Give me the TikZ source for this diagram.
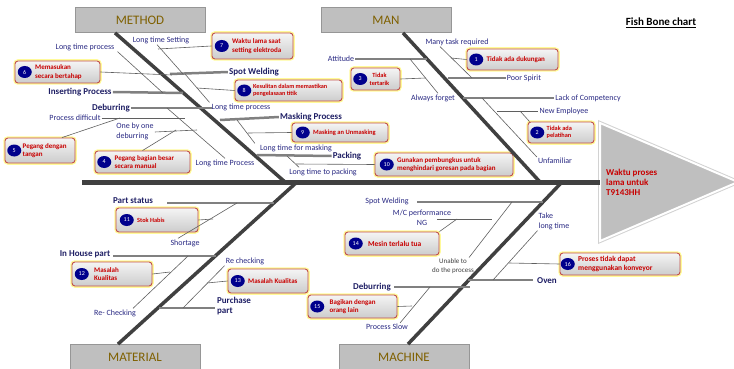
\documentclass[tikz,border=0pt]{standalone}
\usepackage{fontspec}
\setmainfont{Carlito}
\usepackage{xcolor}
\usetikzlibrary{positioning,shapes.geometric}
\definecolor{catgold}{RGB}{127,96,0}
\definecolor{catfill}{RGB}{191,191,191}
\definecolor{catedge}{RGB}{150,150,150}
\definecolor{bonegray}{RGB}{64,64,64}
\definecolor{subgray}{RGB}{128,128,128}
\definecolor{twiggray}{RGB}{95,95,95}
\definecolor{navytext}{RGB}{40,40,130}
\definecolor{navybold}{RGB}{30,30,100}
\definecolor{boxred}{RGB}{192,80,77}
\definecolor{boxtext}{RGB}{200,0,0}
\definecolor{numblue}{RGB}{0,0,140}

\begin{document}
\begin{tikzpicture}[x=1pt, y=-1pt,
    cat/.style={draw=catedge, fill=catfill, line width=0.8pt, preaction={draw=white, line width=4pt}, minimum width=130pt, minimum height=25pt, inner sep=0pt, text=catgold, font=\fontsize{13}{13}\selectfont},
    cbox/.style={draw=boxred, line width=0.9pt, rounded corners=3pt, top color=gray!8, bottom color=gray!40, preaction={draw=yellow!40, line width=3.5pt}, inner sep=0pt},
    num/.style={ellipse, fill=numblue, text=white, minimum width=14pt, minimum height=12pt, inner sep=0pt, font=\fontsize{6}{6}\selectfont},
    ctext/.style={text=boxtext, align=left, inner sep=0pt, font=\fontsize{7}{8.5}\selectfont\bfseries},
    lbl/.style={text=navytext, inner sep=1pt, font=\fontsize{8}{10}\selectfont},
    blbl/.style={text=navybold, inner sep=1pt, font=\fontsize{9}{10}\selectfont\bfseries},
    bone/.style={bonegray, line width=3.5pt},
    sub/.style={subgray, line width=2.5pt},
    twig/.style={twiggray, line width=0.6pt}
]
\useasboundingbox (0,0) rectangle (734,369);

% head and spine
\filldraw[fill=catfill, draw=white, line width=2pt, preaction={draw=gray!35, line width=4pt}] (600,123) -- (738,182) -- (600,241) -- cycle;
\node[text=boxtext, align=left, anchor=west, inner sep=0pt, font=\fontsize{9}{10}\selectfont\bfseries] (effect) at (606,182) {Waktu proses\\lama untuk\\T9143HH};
\node[inner sep=0pt, font=\fontsize{11}{11}\selectfont\bfseries] (title) at (661,23) {\underline{Fish Bone chart}};

\node[cat] (method) at (140,20) {METHOD};
\node[cat] (man) at (386,20) {MAN};
\node[cat] (material) at (135,357) {MATERIAL};
\node[cat] (machine) at (404,357) {MACHINE};

\coordinate (tail) at (82,182);
\coordinate (neck) at (600,182);
\coordinate (mb) at (285,182);
\coordinate (nb) at (540,182);
\coordinate (tb) at (297,182);
\coordinate (cb) at (562,182);

% labels
\node[lbl] (ltproc) at (85,47) {Long time process};
\node[lbl] (ltset) at (161,40) {Long time Setting};
\node[blbl] (spotw) at (254,72) {Spot Welding};
\node[lbl] (ltproc2) at (241,107) {Long time process};
\node[blbl] (insert) at (80,92) {Inserting Process};
\node[blbl] (debur) at (111,108) {Deburring};
\node[lbl] (pdiff) at (75,118) {Process difficult};
\node[lbl, align=left] (onebyone) at (135,131) {One by one\\deburring};
\node[lbl] (ltproc3) at (225,163) {Long time Process};
\node[blbl] (masking) at (311,117) {Masking Process};
\node[lbl] (ltmask) at (296,148) {Long time for masking};
\node[blbl] (packing) at (347,156) {Packing};
\node[lbl] (ltpack) at (323,172) {Long time to packing};

\node[lbl] (manytask) at (457,42) {Many task required};
\node[lbl] (attitude) at (341,59) {Attitude};
\node[lbl] (always) at (433,98) {Always forget};
\node[lbl] (poor) at (524,78) {Poor Spirit};
\node[lbl] (lack) at (588,98) {Lack of Competency};
\node[lbl] (newemp) at (564,111) {New Employee};
\node[lbl] (unfam) at (555,161) {Unfamiliar};

\node[blbl] (partst) at (133,201) {Part status};
\node[lbl] (shortage) at (185,243) {Shortage};
\node[blbl] (inhouse) at (85,254) {In House part};
\node[lbl] (recheck1) at (115,313) {Re- Checking};
\node[lbl] (recheck2) at (245,261) {Re checking};
\node[blbl, align=left] (purchase) at (234,306) {Purchase\\part};

\node[lbl] (spotm) at (387,201) {Spot Welding};
\node[lbl, align=center] (mcperf) at (422,218) {M/C performance\\NG};
\node[lbl, align=center, text=black!75, font=\fontsize{7}{8.5}\selectfont] (unable) at (453,266) {Unable to\\do the process};
\node[lbl, align=left] (takelong) at (554,221) {Take\\long time};
\node[blbl] (oven) at (547,281) {Oven};
\node[blbl] (deburm) at (372,287) {Deburring};
\node[lbl] (pslow) at (387,327) {Process Slow};

% callout boxes
\node[cbox, minimum width=91pt, minimum height=21pt] (b1) at (512.5,59.5) {};
\node[num, right=2.5pt of b1.west] (n1) {1};
\node[ctext, right=3pt of n1] (t1) {Tidak ada dukungan};
\node[cbox, minimum width=66pt, minimum height=21pt] (b2) at (561,132.5) {};
\node[num, right=2.5pt of b2.west] (n2) {2};
\node[ctext, right=2pt of n2, font=\fontsize{6.3}{7.5}\selectfont\bfseries] (t2) {Tidak ada\\pelatihan};
\node[cbox, minimum width=49pt, minimum height=22pt] (b3) at (375.5,79) {};
\node[num, right=2.5pt of b3.west] (n3) {3};
\node[ctext, right=2pt of n3, align=center, font=\fontsize{6.3}{8}\selectfont\bfseries] (t3) {Tidak\\tertarik};
\node[cbox, minimum width=95pt, minimum height=22pt] (b4) at (142.5,162) {};
\node[num, right=2.5pt of b4.west] (n4) {4};
\node[ctext, right=3pt of n4] (t4) {Pegang bagian besar\\secara manual};
\node[cbox, minimum width=70pt, minimum height=25pt] (b5) at (40,150.5) {};
\node[num, right=2.5pt of b5.west] (n5) {5};
\node[ctext, right=1pt of n5] (t5) {Pegang dengan\\tangan};
\node[cbox, minimum width=85pt, minimum height=22pt] (b6) at (57.5,72) {};
\node[num, right=3pt of b6.west] (n6) {6};
\node[ctext, right=3pt of n6] (t6) {Memasukan\\secara bertahap};
\node[cbox, minimum width=81pt, minimum height=26pt] (b7) at (252.5,46) {};
\node[num, right=3pt of b7.west] (n7) {7};
\node[ctext, right=3pt of n7] (t7) {Waktu lama saat\\setting elektroda};
\node[cbox, minimum width=107pt, minimum height=21pt] (b8) at (288.5,90.5) {};
\node[num, right=2.5pt of b8.west] (n8) {8};
\node[ctext, right=1.5pt of n8, font=\fontsize{6.2}{7.5}\selectfont\bfseries] (t8) {Kesulitan dalam memastikan\\pengelasaan titik};
\node[cbox, minimum width=96pt, minimum height=19pt] (b9) at (340,132.5) {};
\node[num, right=4pt of b9.west] (n9) {9};
\node[ctext, right=3pt of n9, font=\fontsize{6.5}{8}\selectfont\bfseries] (t9) {Masking an Unmasking};
\node[cbox, minimum width=138pt, minimum height=23pt] (b10) at (444,164.5) {};
\node[num, right=5pt of b10.west] (n10) {10};
\node[ctext, right=3pt of n10] (t10) {Gunakan pembungkus untuk\\menghindari goresan pada bagian};
\node[cbox, minimum width=82pt, minimum height=24pt] (b11) at (157,220) {};
\node[num, right=4pt of b11.west] (n11) {11};
\node[ctext, right=3pt of n11, font=\fontsize{6.3}{8}\selectfont\bfseries] (t11) {Stok Habis};
\node[cbox, minimum width=80pt, minimum height=24pt] (b12) at (112,274) {};
\node[num, right=3pt of b12.west] (n12) {12};
\node[ctext, right=5pt of n12] (t12) {Masalah\\Kualitas};
\node[cbox, minimum width=80pt, minimum height=24pt] (b13) at (268,281) {};
\node[num, right=3pt of b13.west] (n13) {13};
\node[ctext, right=3pt of n13] (t13) {Masalah Kualitas};
\node[cbox, minimum width=94pt, minimum height=23pt] (b14) at (392,243.5) {};
\node[num, right=4pt of b14.west] (n14) {14};
\node[ctext, right=5pt of n14, font=\fontsize{7.5}{8.5}\selectfont\bfseries] (t14) {Mesin terlalu tua};
\node[cbox, minimum width=89pt, minimum height=23pt] (b15) at (352.5,306.5) {};
\node[num, right=2.5pt of b15.west] (n15) {15};
\node[ctext, right=5pt of n15] (t15) {Bagikan dengan\\orang lain};
\node[cbox, minimum width=120pt, minimum height=22pt] (b16) at (620,264) {};
\node[num, right=1pt of b16.west] (n16) {16};
\node[ctext, right=3pt of n16, font=\fontsize{7.5}{9}\selectfont\bfseries] (t16) {Proses tidak dapat\\menggunakan konveyor};

% free ends on the bones
\coordinate (sw0) at (170,74); \coordinate (in1) at (183,93); \coordinate (db1) at (212,108);
\coordinate (mk0) at (220,120); \coordinate (pk0) at (257,155);
\coordinate (ltp1) at (163,93); \coordinate (lts1) at (183,74); \coordinate (ltp2) at (185,74);
\coordinate (b6e) at (172,75); \coordinate (b7e) at (158,49); \coordinate (b8e) at (197,88);
\coordinate (pd1) at (185,118); \coordinate (b5e) at (120,118);
\coordinate (ob1) at (197,130); \coordinate (b4e) at (176,130);
\coordinate (ltp3) at (167,108); \coordinate (ltm0) at (237,120); \coordinate (b9e) at (248,133);
\coordinate (ltk0) at (287,156); \coordinate (b10e) at (296,164);
\coordinate (at1) at (427,59); \coordinate (ps0) at (448,78); \coordinate (lc0) at (463,98);
\coordinate (mt1) at (472,78); \coordinate (b1e) at (451,58);
\coordinate (af0) at (410,59); \coordinate (b3e) at (426,78);
\coordinate (ne0) at (497,111); \coordinate (b2e) at (520,111); \coordinate (un0) at (482,98);
\coordinate (pa0) at (167,203); \coordinate (pa1) at (274,203);
\coordinate (ih0) at (113,256); \coordinate (ih1) at (216,256);
\coordinate (pu0) at (159,308); \coordinate (pu1) at (215,308);
\coordinate (sh0) at (237,203); \coordinate (b11e) at (213,219);
\coordinate (rc0) at (188,256); \coordinate (b12e) at (170,272);
\coordinate (rc1) at (183,308); \coordinate (b13e) at (207,283);
\coordinate (sm0) at (417,202); \coordinate (sm1) at (543,202);
\coordinate (dm0) at (394,287); \coordinate (dm1) at (470,287);
\coordinate (ov0) at (468,280); \coordinate (ov1) at (533,280);
\coordinate (mc0) at (437,219); \coordinate (mc1) at (492,219); \coordinate (b14e) at (457,219);
\coordinate (ut1) at (512,202); \coordinate (tl1) at (493,280); \coordinate (b16e) at (509,263);
\coordinate (sl1) at (430,287); \coordinate (b15e) at (412,306);

% bones
\draw[bonegray, line width=5pt] (tail) -- (neck);
\draw[bone] ([xshift=-25pt]method.south) -- (mb);
\draw[bone] ([xshift=17pt]man.south) -- (nb);
\draw[bone] (tb) -- ([xshift=-17pt]material.north);
\draw[bone] (cb) -- ([xshift=4pt]machine.north);

\draw[sub] (sw0) -- (spotw.west);
\draw[sub] (insert.east) -- (in1);
\draw[sub] (debur.east) -- (db1);
\draw[sub] (mk0) -- (masking.west);
\draw[sub] (pk0) -- (packing.west);
\draw[sub] (attitude.east) -- (at1);
\draw[sub] (ps0) -- (poor.west);
\draw[sub] (lc0) -- (lack.west);
\draw[sub] (pa0) -- (pa1);
\draw[sub] (ih0) -- (ih1);
\draw[sub] (pu0) -- (pu1);
\draw[sub] (sm0) -- (sm1);
\draw[sub] (dm0) -- (dm1);
\draw[sub] (ov0) -- (ov1);

% twigs
\draw[twig] ([xshift=2pt]ltproc.south east) -- (ltp1);
\draw[twig] ([xshift=-4pt]ltset.south) -- (lts1);
\draw[twig] (ltp2) -- ([xshift=-1pt]ltproc2.north west);
\draw[twig] (pdiff.east) -- (pd1);
\draw[twig] ([yshift=-1pt]onebyone.east) -- (ob1);
\draw[twig] (ltp3) -- (ltproc3.north);
\draw[twig] (ltm0) -- ([xshift=-4pt]ltmask.north west);
\draw[twig] (ltk0) -- ([xshift=11pt]ltpack.north west);
\draw[twig] ([xshift=-17pt]manytask.south) -- (mt1);
\draw[twig] (af0) -- ([xshift=5pt]always.north);
\draw[twig] (ne0) -- (newemp.west);
\draw[twig] (un0) -- (unfam.north west);
\draw[twig] (sh0) -- ([xshift=-7pt]shortage.north);
\draw[twig] (rc0) -- ([xshift=18pt]recheck1.north);
\draw[twig] (recheck2.south west) -- (rc1);
\draw[twig] (mc0) -- (mc1);
\draw[twig] ([xshift=-6pt]unable.north east) -- (ut1);
\draw[twig] (takelong.south west) -- (tl1);
\draw[twig] ([xshift=13pt]pslow.north) -- (sl1);

% callout links
\draw[twig] (b1.west) -- (b1e);
\draw[twig] (b2e) -- ([xshift=2pt]b2.north west);
\draw[twig] (b3.east) -- (b3e);
\draw[twig] (b4.north) -- (b4e);
\draw[twig] ([xshift=22pt]b5.north) -- (b5e);
\draw[twig] (b6.east) -- (b6e);
\draw[twig] (b7.west) -- (b7e);
\draw[twig] (b8.west) -- (b8e);
\draw[twig] (b9.west) -- (b9e);
\draw[twig] (b10.west) -- (b10e);
\draw[twig] (b11.east) -- (b11e);
\draw[twig] (b12.east) -- (b12e);
\draw[twig] (b13.west) -- (b13e);
\draw[twig] (b14.north east) -- (b14e);
\draw[twig] (b15.east) -- (b15e);
\draw[twig] (b16.west) -- (b16e);
\end{tikzpicture}
\end{document}
